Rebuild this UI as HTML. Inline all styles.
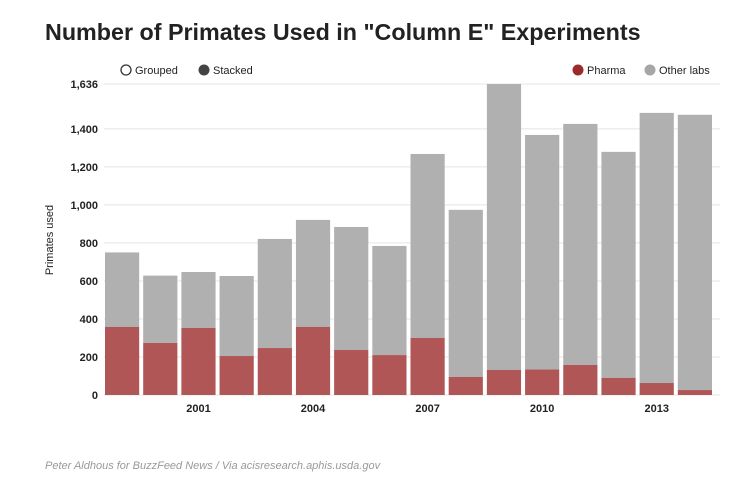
<!DOCTYPE html>
<html><head><meta charset="utf-8"><style>
body{margin:0;background:#fff;font-family:"Liberation Sans",sans-serif;}
#wrap{position:relative;width:750px;height:488px;overflow:hidden;}
</style></head><body>
<div id="wrap">
<svg id="chart" width="750" height="488">
<text x="45" y="40" font-size="23.3" font-weight="bold" fill="#222">Number of Primates Used in "Column E" Experiments</text>
<g><circle cx="126" cy="70" r="5" fill="#fff" stroke="#333" stroke-width="1.3"/><text x="135" y="74" font-size="11" fill="#222">Grouped</text></g>
<g><circle cx="204" cy="70" r="5.5" fill="#444"/><text x="213" y="74" font-size="11" fill="#222">Stacked</text></g>
<g><circle cx="578" cy="70" r="5.5" fill="#9b2a2a"/><text x="587" y="74" font-size="11" fill="#222">Pharma</text></g>
<g><circle cx="650" cy="70" r="5.5" fill="#a6a6a6"/><text x="659" y="74" font-size="11" fill="#222">Other labs</text></g>
<text transform="translate(53,240) rotate(-90)" text-anchor="middle" font-size="11" fill="#222">Primates used</text>
<g id="grid"></g><g id="bars"></g><g id="xlabels"></g>
<text x="45" y="469" font-size="11" font-style="italic" fill="#999">Peter Aldhous for BuzzFeed News / Via acisresearch.aphis.usda.gov</text>
</svg>
</div>
<script>
const years=[1999,2000,2001,2002,2003,2004,2005,2006,2007,2008,2009,2010,2011,2012,2013,2014];
const totals=[750,628,647,626,821,921,884,784,1268,974,1636,1368,1426,1279,1484,1474];
const pharma=[358,274,353,205,247,358,237,210,300,95,132,134,158,90,63,26];
const yTicks=[0,200,400,600,800,1000,1200,1400,1636];
const xTickYears=[2001,2004,2007,2010,2013];
const NS="http://www.w3.org/2000/svg";
const x0=105,x1=716,yBase=395,yMax=1636,yTop=84;
const band=(x1-x0)/years.length;
function xs(i){return x0+i*band;}
function ys(v){return yBase-(v/yMax)*(yBase-yTop);}
function mk(tag,attrs,parent){const e=document.createElementNS(NS,tag);for(const k in attrs)e.setAttribute(k,attrs[k]);parent.appendChild(e);return e;}
const grid=document.getElementById('grid'),bars=document.getElementById('bars'),xl=document.getElementById('xlabels');
yTicks.forEach(t=>{
 const l=mk('line',{x1:104,x2:720,y1:ys(t),y2:ys(t),stroke:'#e4e4e4','stroke-width':1},grid);
 
 
 const tx=mk('text',{x:98,y:ys(t)+4,'text-anchor':'end','font-size':11,'font-weight':'bold',fill:'#222'},grid);
 tx.textContent=t.toLocaleString('en-US');
 
 
});
years.forEach((y,i)=>{
 const w=band-4;
 const o=mk('rect',{x:xs(i),y:ys(totals[i]),width:w,height:ys(pharma[i])-ys(totals[i]),fill:'#b0b0b0'},bars);
 
 
 const p=mk('rect',{x:xs(i),y:ys(pharma[i]),width:w,height:yBase-ys(pharma[i]),fill:'#b05656'},bars);
 
 
});
xTickYears.forEach(y=>{
 const i=years.indexOf(y);
 const t=mk('text',{x:xs(i)+(band-4)/2,y:412,'text-anchor':'middle','font-size':11,'font-weight':'bold',fill:'#222'},xl);
 t.textContent=y;
 
 
});
</script>
</body></html>
